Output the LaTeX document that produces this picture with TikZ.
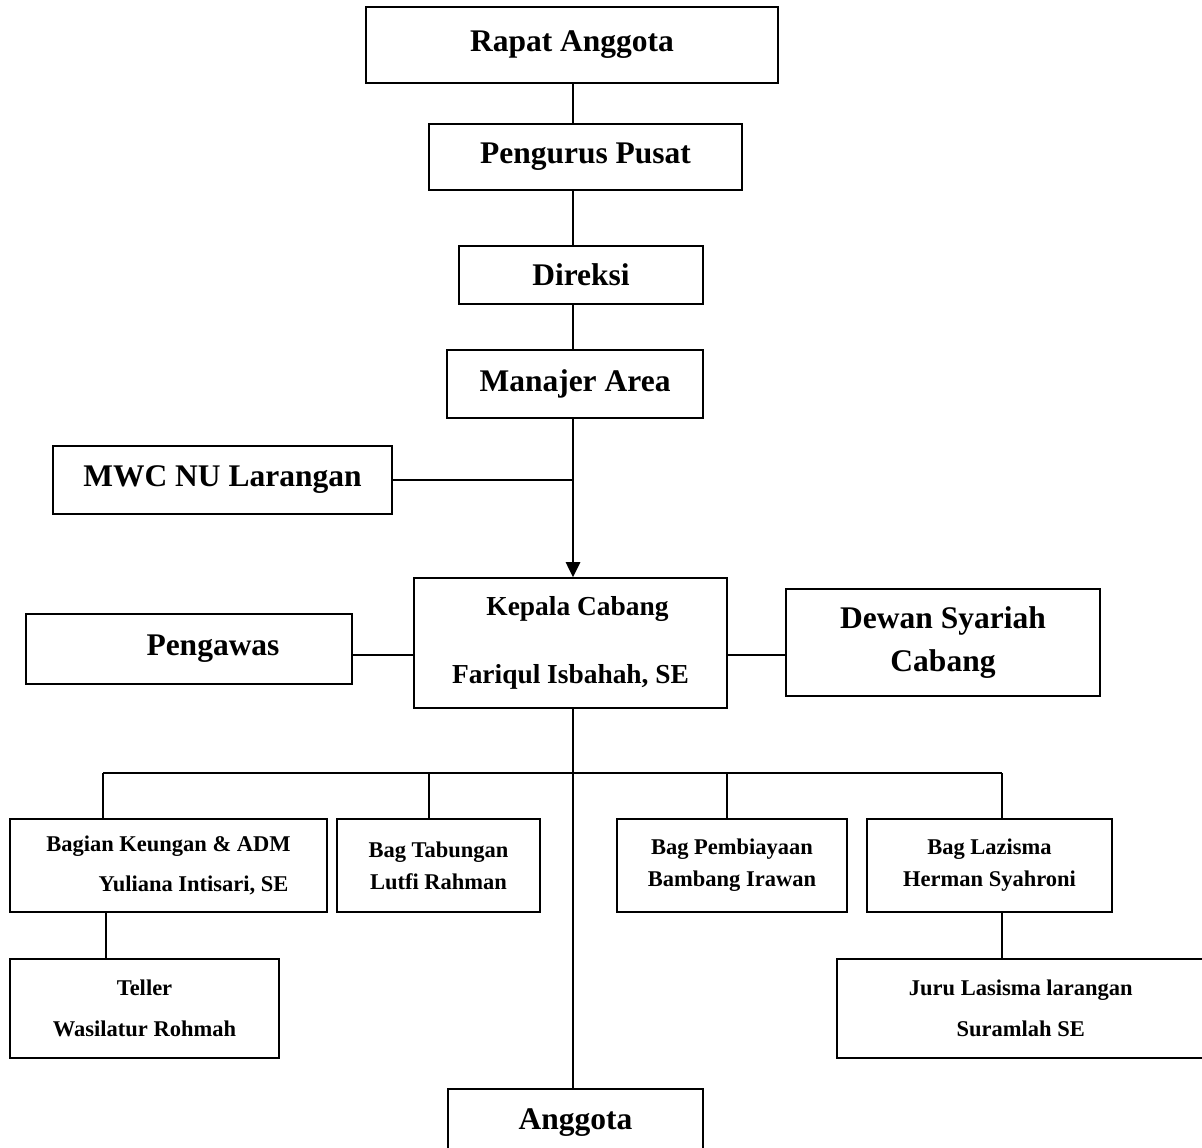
\documentclass[tikz,border=0pt]{standalone}
\usepackage{fontspec}
\setmainfont{Liberation Serif}
\usetikzlibrary{arrows.meta,positioning}

\begin{document}
\begin{tikzpicture}[x=0.025cm,y=-0.025cm,
  kotak/.style={rectangle,draw=black,line width=1.2pt,inner sep=0pt,align=center},
  besar/.style={font=\fontsize{22.4}{30}\selectfont\bfseries},
  sedang/.style={font=\fontsize{19.5}{48.4}\selectfont\bfseries},
  kecil/.style={font=\fontsize{16}{29}\selectfont\bfseries},
  rapat/.style={font=\fontsize{16}{22.8}\selectfont\bfseries},
  garis/.style={line width=1.2pt}]
\useasboundingbox (0,0) rectangle (1202,1148);
% Top chain, on the trunk at x = 573.
\coordinate (cT) at (573,0);
\node[kotak,besar,minimum width=10.3cm,minimum height=1.9cm] (nRapat) at (572,45) {Rapat Anggota};
\node[kotak,besar,minimum width=7.825cm,minimum height=1.65cm] (nPengurus) at (585.5,157) {Pengurus Pusat};
\node[kotak,besar,minimum width=6.1cm,minimum height=1.45cm] (nDireksi) at (581,275) {Direksi};
\node[kotak,besar,minimum width=6.4cm,minimum height=1.7cm] (nManajer) at (575,384) {Manajer Area};
\node[kotak,besar,minimum width=8.475cm,minimum height=1.7cm] (nMWC) at (222.5,480) {MWC NU Larangan};
% Branch head and its two sides.
\node[kotak,sedang,minimum width=7.825cm,minimum height=3.25cm] (nKepala) at (570.5,643) {\hspace*{0.35cm}Kepala Cabang\\Fariqul Isbahah, SE};
\node[kotak,besar,minimum width=8.15cm,minimum height=1.75cm] (nPengawas) at (189,649) {\hspace*{1.2cm}Pengawas};
\node[kotak,besar,minimum width=7.85cm,minimum height=2.675cm] (nDewan) at (943,642.5) {Dewan Syariah\\Cabang};
% Sections under the bus.
\coordinate (cBus) at (0,773);
\node[kotak,kecil,minimum width=7.925cm,minimum height=2.325cm] (nKeuangan) at (168.5,865.5) {Bagian Keungan \& ADM\\\hspace*{1.25cm}Yuliana Intisari, SE};
\node[kotak,rapat,minimum width=5.075cm,minimum height=2.325cm] (nTabungan) at (438.5,865.5) {Bag Tabungan\\Lutfi Rahman};
\node[kotak,rapat,minimum width=5.75cm,minimum height=2.325cm] (nPembiayaan) at (732,865.5) {Bag Pembiayaan\\Bambang Irawan};
\node[kotak,rapat,minimum width=6.125cm,minimum height=2.325cm] (nLazisma) at (989.5,865.5) {Bag Lazisma\\Herman Syahroni};
\node[kotak,kecil,minimum width=6.725cm,minimum height=2.475cm] (nTeller) at (144.5,1008.5) {Teller\\Wasilatur Rohmah};
\node[kotak,kecil,minimum width=9.475cm,minimum height=2.475cm,anchor=west] (nJuru) at (836,1008.5) {\hspace*{-0.28cm}Juru Lasisma larangan\\\hspace*{-0.28cm}Suramlah SE};
\node[kotak,besar,minimum width=6.375cm,minimum height=1.8cm,anchor=north] (nAnggota) at (575.5,1088) {\raisebox{0.3cm}{Anggota}};
% Connectors.
\coordinate (cMWC) at (573,480);
\draw[garis] (nRapat.south -| cT) -- (nPengurus.north -| cT);
\draw[garis] (nPengurus.south -| cT) -- (nDireksi.north -| cT);
\draw[garis] (nDireksi.south -| cT) -- (nManajer.north -| cT);
\draw[garis,-{Triangle[length=0.375cm,width=0.36cm]}] (nManajer.south -| cT) -- (nKepala.north -| cT);
\draw[garis] (nMWC.east) -- (cMWC);
\draw[garis] (nPengawas.east |- 0,655) -- (nKepala.west |- 0,655);
\draw[garis] (nKepala.east |- 0,655) -- (nDewan.west |- 0,655);
\draw[garis] (nKepala.south -| cT) -- (nAnggota.north -| cT);
\draw[garis] (103,773) coordinate (cBusL) -- (1002,773) coordinate (cBusR);
\draw[garis] (cBusL) -- (nKeuangan.north -| cBusL);
\draw[garis] (cBus -| 429,0) -- (nTabungan.north -| 429,0);
\draw[garis] (cBus -| 727,0) -- (nPembiayaan.north -| 727,0);
\draw[garis] (cBusR) -- (nLazisma.north -| cBusR);
\draw[garis] (nKeuangan.south -| 106,0) -- (nTeller.north -| 106,0);
\draw[garis] (nLazisma.south -| cBusR) -- (nJuru.north -| cBusR);
\end{tikzpicture}
\end{document}
